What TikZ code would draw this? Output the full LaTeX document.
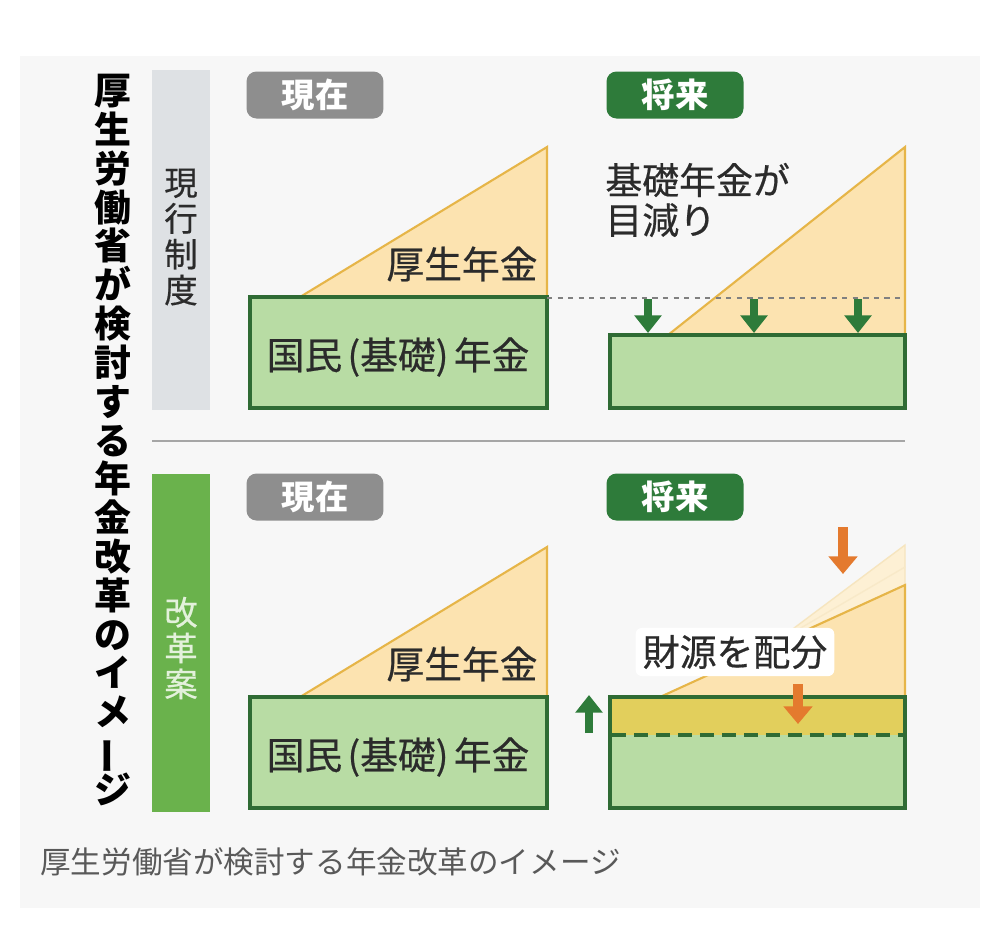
\documentclass[tikz,border=0pt]{standalone}
\usepackage{fontspec}
\setmainfont{Noto Sans CJK JP}
\newfontfamily\jpmed[FakeBold=0.5]{Noto Sans CJK JP}
\usetikzlibrary{arrows.meta, positioning}
\definecolor{panel}{HTML}{F7F7F7}
\definecolor{kfill}{HTML}{FCE3B0}
\definecolor{kline}{HTML}{E6B548}
\definecolor{gfill}{HTML}{B8DCA4}
\definecolor{gline}{HTML}{2F6B34}
\definecolor{gdark}{HTML}{2E7B3A}
\definecolor{gbar}{HTML}{6AB24C}
\definecolor{sbar}{HTML}{DEE1E4}
\definecolor{tgray}{HTML}{8E8E8E}
\definecolor{yband}{HTML}{E2CF5C}
\definecolor{orng}{HTML}{E47A2E}
\definecolor{txt}{HTML}{2B2B2B}

\begin{document}
\begin{tikzpicture}[x=0.02cm, y=-0.02cm,
    tag/.style={rounded corners=0.2cm, minimum width=2.74cm, minimum height=0.94cm, inner sep=0pt, text=white, font=\fontsize{19}{19}\selectfont\bfseries},
    kosei/.style={fill=kfill, draw=kline, line width=1.2pt},
    kiso/.style={fill=gfill, draw=gline, line width=2pt},
    lbl/.style={inner sep=0pt, text=txt, font=\jpmed\fontsize{21.5}{21.5}\selectfont},
    side/.style={align=center, inner sep=0pt, font=\jpmed\fontsize{19}{20.4}\selectfont},
    garrow/.style={-{Triangle[width=15pt,length=10pt]}, line width=5pt, draw=gdark},
    oarrow/.style={-{Triangle[width=16pt,length=10pt]}, line width=5.5pt, draw=orng}]
\useasboundingbox (0,0) rectangle (986,941);
\fill[panel] (20,56) rectangle (980,908);
%
\node[align=center, inner sep=0pt, text=black, font=\fontsize{21}{22.1}\selectfont\bfseries] (title) at (113,440)
    {厚\\生\\労\\働\\省\\が\\検\\討\\す\\る\\年\\金\\改\\革\\の\\イ\\メ\\\smash{\rotatebox[origin=c]{90}{ー}}\\ジ};
\fill[sbar] (152,70) rectangle (210,410);
\fill[gbar] (152,474) rectangle (210,812);
\node[side, text=txt] (genko) at (181,237) {現\\行\\制\\度};
\node[side, text=gfill!40] (kaikaku) at (181,648) {改\\革\\案};
\draw[gray!70, line width=1.2pt] (152,441) -- (905,441);
%
\node[tag, fill=tgray] (nowA) at (315,95) {現在};
\node[tag, fill=gdark] (futA) at (675,95) {将来};
\node[tag, fill=tgray] (nowB) at (315,497) {現在};
\node[tag, fill=gdark] (futB) at (675,497) {将来};
%
% genko seido
\filldraw[kosei] (300,297) -- (547,147) -- (547,297) -- cycle;
\filldraw[kiso] (250,297) rectangle (547,408);
\node[lbl] (koseiA) at (462,264) {厚生年金};
\node[lbl] (kisoA) at (398,357) {国民\kern3pt(基礎)\kern3pt年金};
\filldraw[kosei] (668,335) -- (905,147) -- (905,335) -- cycle;
\filldraw[kiso] (610,335) rectangle (905,408);
\draw[gray, dashed, line width=0.8pt] (547,298) -- (905,298);
\foreach \x/\n in {648/a,754/b,858/c}{
  \coordinate (s\n) at (\x,299);
  \coordinate (e\n) at (\x,333);
  \draw[garrow] (s\n) -- (e\n);
}
\node[lbl, anchor=west, align=left, font=\jpmed\fontsize{21}{22.7}\selectfont] (meberi) at (605,200) {基礎年金が\\目減り};
%
% kaikaku an
\filldraw[kosei] (300,697) -- (547,547) -- (547,697) -- cycle;
\filldraw[kiso] (250,697) rectangle (547,808);
\node[lbl] (koseiB) at (462,664) {厚生年金};
\node[lbl] (kisoB) at (398,757) {国民\kern3pt(基礎)\kern3pt年金};
\fill[kfill!55, draw=kline!35, line width=0.8pt] (770,646) -- (905,545) -- (905,585) -- cycle;
\draw[kline!30, line width=0.8pt] (770,646) -- (905,567);
\filldraw[kosei] (660,697) -- (905,585) -- (905,697) -- cycle;
\fill[yband] (610,697) rectangle (905,735);
\fill[gfill] (610,735) rectangle (905,808);
\draw[gline, line width=2pt] (610,697) rectangle (905,808);
\draw[gline, dash pattern=on 8pt off 4.5pt, line width=2pt] (612,735) -- (904,735);
\node[lbl, fill=white, rounded corners=0.12cm, inner sep=4pt, font=\jpmed\fontsize{21}{21}\selectfont] (zaigen) at (735,652) {財源を配分};
\coordinate (o1s) at (843,527);
\coordinate (o1e) at (843,574);
\draw[oarrow] (o1s) -- (o1e);
\coordinate (o2s) at (798,684);
\coordinate (o2e) at (798,724);
\draw[oarrow] (o2s) -- (o2e);
\coordinate (gus) at (589,733);
\coordinate (gue) at (589,695);
\draw[garrow] (gus) -- (gue);
%
\node[anchor=west, inner sep=0pt, text=black!65, font=\fontsize{17.4}{17.4}\selectfont] (caption) at (40,862) {厚生労働省が検討する年金改革のイメージ};
\end{tikzpicture}
\end{document}
